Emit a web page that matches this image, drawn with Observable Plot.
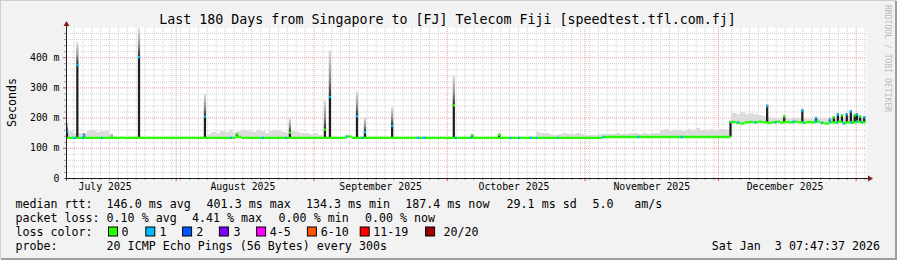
<!DOCTYPE html>
<html><head><meta charset="utf-8">
<script src="https://cdn.jsdelivr.net/npm/d3@7"></script>
<script src="https://cdn.jsdelivr.net/npm/@observablehq/plot@0.6"></script>
<style>
html,body{margin:0;padding:0;background:#f2f2f2;overflow:hidden}
#chart{position:relative;width:897px;height:260px}
#chart svg text{font-family:"DejaVu Sans Mono",monospace}
</style></head>
<body><div id="chart"></div>
<script>
// ---------- data ----------
const rangeStart = "2025-07-07T07:47:37Z";
const rangeEnd = "2026-01-03T07:47:37Z";
const titleText = "Last 180 Days from Singapore to [FJ] Telecom Fiji [speedtest.tfl.com.fj]";
const yAxisTitle = "Seconds";
const sideText = "RRDTOOL / TOBI OETIKER";
const yTickValues = [0, 100, 200, 300, 400];
const yTickLabels = ["0", "100 m", "200 m", "300 m", "400 m"];
const monthLabelDates = ["2025-07-16", "2025-08-16", "2025-09-16", "2025-10-16", "2025-11-16", "2025-12-16"];
const monthLabels = ["July 2025", "August 2025", "September 2025", "October 2025", "November 2025", "December 2025"];

// median rtt steps (ms), each lasting until the next start
const medianStepStart = ["2025-07-07T07:47Z","2025-08-14T12:00Z","2025-08-15T20:00Z","2025-09-08T10:00Z","2025-09-09T14:00Z",
  "2025-11-05T00:00Z","2025-12-03T20:00Z","2025-12-05T00:00Z","2025-12-06T00:00Z","2025-12-07T00:00Z","2025-12-08T00:00Z",
  "2025-12-09T00:00Z","2025-12-10T00:00Z","2025-12-11T00:00Z","2025-12-12T00:00Z","2025-12-13T00:00Z","2025-12-14T00:00Z",
  "2025-12-15T00:00Z","2025-12-16T00:00Z","2025-12-17T00:00Z","2025-12-18T00:00Z","2025-12-19T00:00Z","2025-12-20T00:00Z",
  "2025-12-21T00:00Z","2025-12-22T00:00Z","2025-12-23T00:00Z","2025-12-24T00:00Z","2025-12-25T00:00Z","2025-12-26T00:00Z",
  "2025-12-27T00:00Z","2025-12-28T00:00Z","2025-12-29T00:00Z","2025-12-30T00:00Z","2025-12-31T00:00Z","2026-01-01T00:00Z",
  "2026-01-02T00:00Z","2026-01-03T00:00Z"];
const medianStepMs = [134.3,138,134.3,139,134.3,
  137.5,187,185,182,186,187,
  186,188,186,184,186,188,
  185,187,186,188,186,185,
  187,186,188,184,182,186,
  185,188,183,186,185,188,
  186,187];

// short stretches of the median drawn with loss colour "1"
const blueStart = ["2025-07-09T00:00Z","2025-07-11T00:00Z","2025-07-15T04:00Z","2025-08-13T04:00Z","2025-08-20T08:00Z",
  "2025-08-25T14:00Z","2025-09-08T06:00Z","2025-09-11T20:00Z","2025-09-24T06:00Z","2025-09-25T14:00Z","2025-10-02T18:00Z",
  "2025-10-06T04:00Z","2025-10-15T04:00Z","2025-10-17T00:00Z","2025-10-19T16:00Z","2025-10-21T00:00Z","2025-10-25T18:00Z",
  "2025-11-05T00:00Z","2025-11-12T20:00Z","2025-11-22T14:00Z","2025-12-04T00:00Z","2025-12-05T08:00Z","2025-12-09T04:00Z",
  "2025-12-13T18:00Z","2025-12-17T18:00Z","2025-12-20T02:00Z","2025-12-22T18:00Z","2025-12-24T06:00Z","2025-12-26T02:00Z",
  "2025-12-27T16:00Z","2025-12-29T02:00Z","2025-12-30T20:00Z","2026-01-01T04:00Z","2026-01-02T06:00Z"];
const blueEnd = ["2025-07-09T12:00Z","2025-07-11T10:00Z","2025-07-15T14:00Z","2025-08-13T16:00Z","2025-08-20T20:00Z",
  "2025-08-26T00:00Z","2025-09-08T16:00Z","2025-09-12T06:00Z","2025-09-24T22:00Z","2025-09-26T08:00Z","2025-10-03T04:00Z",
  "2025-10-06T14:00Z","2025-10-15T14:00Z","2025-10-17T12:00Z","2025-10-20T04:00Z","2025-10-21T10:00Z","2025-10-26T04:00Z",
  "2025-11-05T10:00Z","2025-11-13T08:00Z","2025-11-23T04:00Z","2025-12-04T08:00Z","2025-12-05T18:00Z","2025-12-09T16:00Z",
  "2025-12-14T04:00Z","2025-12-18T06:00Z","2025-12-20T10:00Z","2025-12-23T06:00Z","2025-12-24T14:00Z","2025-12-26T10:00Z",
  "2025-12-28T00:00Z","2025-12-29T12:00Z","2025-12-31T06:00Z","2026-01-01T12:00Z","2026-01-02T14:00Z"];

// daily smoke (max rtt, ms), one value per day from 2025-07-07; null = no smoke
const smokeFirstDay = "2025-07-07T00:00Z";
const smokeJul = [160,155,150,150,148,156,158,153,157,154,150,null,null,null,null,null,null,null,null,null,null,null,null,null,null];
const smokeAug = [null,null,null,null,null,null,null,146,152,150,155,152,158,148,156,160,155,152,158,156,150,155,159,156,152,148,155,152,150,148,146];
const smokeSep = [148,144,null,null,null,null,null,null,null,null,null,null,null,null,null,null,null,null,null,null,null,null,null,null,null,null,null,null,null,null];
const smokeOct = [null,null,null,null,null,null,null,null,null,null,null,null,null,null,null,null,null,null,null,null,152,150,148,146,144,146,149,145,147,149,146];
const smokeNov = [144,142,144,146,145,147,146,148,145,147,149,148,146,149,147,150,149,158,162,156,160,158,155,161,158,164,160,158,162,159];
const smokeDec = [161,163,158,216,213,218,211,216,212,210,206,203,199,197,201,199,196,200,198,200,197,195,199,197,195,198,201,203,199,204,202];
const smokeJan = [204,199,197];

// spikes: time, rtt level under the spike, median, max, loss index
const spikeTime = ["2025-07-07T13:00Z","2025-07-09T21:00Z","2025-07-11T09:00Z","2025-07-17T16:00Z","2025-07-23T18:00Z",
  "2025-08-07T14:00Z","2025-08-14T19:00Z","2025-08-26T17:00Z","2025-09-03T14:00Z","2025-09-04T17:00Z","2025-09-10T19:00Z",
  "2025-09-12T14:00Z","2025-09-18T17:00Z","2025-10-02T14:00Z","2025-10-06T17:00Z","2025-10-12T19:00Z","2025-12-03T20:00Z",
  "2025-12-12T02:00Z","2025-12-15T22:00Z","2025-12-20T00:00Z","2025-12-23T02:00Z","2025-12-26T05:00Z","2025-12-27T02:00Z",
  "2025-12-28T00:00Z","2025-12-28T22:00Z","2025-12-30T00:00Z","2025-12-30T22:00Z","2025-12-31T19:00Z","2026-01-01T07:00Z",
  "2026-01-02T00:00Z","2026-01-02T22:00Z"];
const spikeBase = [134,134,134,134,134,134,134,134,134,134,134,134,134,134,134,134,137,186,186,186,186,186,186,186,186,186,186,186,186,186,186];
const spikeMedian = [155,375,142,140,402,205,147,152,162,270,206,153,174,242,143,145,187,239,205,225,200,195,202,212,209,212,222,209,212,205,203];
const spikeMax = [185,450,150,142,497,278,152,198,258,424,286,200,236,341,146,148,190,245,210,230,203,198,205,216,212,216,226,212,215,208,206];
const spikeLoss = [1,1,1,0,1,1,0,0,0,1,1,1,1,0,0,0,0,1,0,1,1,1,0,1,0,1,1,0,1,0,1];

// legend
const lossLabels = ["0","1","2","3","4-5","6-10","11-19","20/20"];
const lossColors = ["#26ff00","#00b8ff","#0059ff","#7e00ff","#ff00ff","#ff5500","#ff0000","#a10000"];
const medianRttLabel = "median rtt:";
const medianRttItems = ["146.0 ms avg","401.3 ms max","134.3 ms min","187.4 ms now","29.1 ms sd","5.0","am/s"];
const packetLossLabel = "packet loss:";
const packetLossItems = ["0.10 % avg","4.41 % max","0.00 % min","0.00 % now"];
const lossColorLabel = "loss color:";
const probeLabel = "probe:";
const probeText = "20 ICMP Echo Pings (56 Bytes) every 300s";
const stampText = "Sat Jan  3 07:47:37 2026";

// ---------- build tables ----------
const t0 = new Date(rangeStart), t1 = new Date(rangeEnd);
const steps = medianStepStart.map((s, i) => ({
  a: new Date(s), b: i + 1 < medianStepStart.length ? new Date(medianStepStart[i + 1]) : t1, v: medianStepMs[i]
}));
function medianAt(t) {
  let v = steps[0].v;
  for (const s of steps) if (+s.a <= +t) v = s.v;
  return v;
}
const blues = blueStart.map((s, i) => {
  const a = new Date(s), b = new Date(blueEnd[i]);
  return {a, b, v: medianAt(new Date((+a + +b) / 2))};
});
const smokeAll = [].concat(smokeJul, smokeAug, smokeSep, smokeOct, smokeNov, smokeDec, smokeJan);
const day0 = new Date(smokeFirstDay);
const smoke = smokeAll.map((v, i) => ({
  a: d3.utcDay.offset(day0, i), b: d3.utcDay.offset(day0, i + 1), top: v
})).filter(d => d.top != null).map(d => ({...d, base: medianAt(d.a)}));
const halfW = 6 * 3600e3;
const spikes = spikeTime.map((s, i) => {
  const t = new Date(s);
  return {a: new Date(+t - halfW), b: new Date(+t + halfW), base: spikeBase[i], med: spikeMedian[i], max: spikeMax[i], color: lossColors[spikeLoss[i]]};
});

const monthStarts = d3.utcMonth.range(d3.utcMonth.ceil(t0), t1);
const minorDays = d3.utcDay.range(d3.utcDay.ceil(t0), t1)
  .filter(d => Math.round(+d / 864e5) % 2 === 0 && d.getUTCDate() !== 1);
const yMinor = d3.range(20, 500, 20).filter(v => v % 100 !== 0);
const yMajor = [100, 200, 300, 400];
const monthTickDates = monthLabelDates.map(d => new Date(d + "T00:00Z"));
const monthMap = new Map(monthTickDates.map((d, i) => [+d, monthLabels[i]]));
const yMap = new Map(yTickValues.map((v, i) => [v, yTickLabels[i]]));

const gridMinor = "#d0d0d0", gridMajor = "#ec9c9c";

const chart = Plot.plot({
  width: 897, height: 260,
  marginLeft: 66, marginRight: 31, marginTop: 27, marginBottom: 82,
  x: {type: "utc", domain: [t0, t1]},
  y: {domain: [0, 500]},
  color: {type: "identity"},
  style: {background: "transparent", fontFamily: "DejaVu Sans Mono", fontSize: "9.8px", color: "#000", overflow: "visible"},
  marks: [
    Plot.frame({fill: "#ffffff", stroke: "none"}),
    Plot.ruleX(minorDays, {stroke: gridMinor, strokeDasharray: "1,1"}),
    Plot.ruleY(yMinor, {stroke: gridMinor, strokeDasharray: "1,1"}),
    Plot.ruleX(monthStarts, {stroke: gridMajor, strokeDasharray: "1,1"}),
    Plot.ruleY(yMajor, {stroke: gridMajor, strokeDasharray: "1,1"}),
    Plot.rect(smoke, {x1: "a", x2: "b", y1: "base", y2: "top", fill: "#dcdcdc", clip: true, shapeRendering: "crispEdges"}),
    Plot.rect(spikes, {x1: "a", x2: "b", y1: "med", y2: "max", fill: "url(#smokeGrad)", clip: true}),
    Plot.rect(spikes, {x1: "a", x2: "b", y1: "base", y2: "med", fill: "#1e1e1e", clip: true}),
    Plot.ruleY(steps, {x1: "a", x2: "b", y: "v", stroke: lossColors[0], strokeWidth: 2.3, clip: true}),
    Plot.ruleY(blues, {x1: "a", x2: "b", y: "v", stroke: lossColors[1], strokeWidth: 2.3, clip: true}),
    Plot.ruleY(spikes, {x1: "a", x2: "b", y: "med", stroke: "color", strokeWidth: 2.3, clip: true}),
    Plot.axisX(minorDays, {tickSize: 2, tickFormat: () => "", stroke: "#9a9a9a", label: null}),
    Plot.axisX(monthStarts, {tickSize: 3, tickFormat: () => "", stroke: "#d44", label: null}),
    Plot.axisY(yMinor, {tickSize: 2, tickFormat: () => "", stroke: "#9a9a9a", label: null}),
    Plot.axisY(yMajor, {tickSize: 3, tickFormat: () => "", stroke: "#d44", label: null}),
    Plot.axisX(monthTickDates, {tickSize: 0, tickPadding: 5, tickFormat: d => monthMap.get(+d), label: null, fill: "#000"}),
    Plot.axisY(yTickValues, {tickSize: 0, tickPadding: 7, tickFormat: d => yMap.get(d), label: null, fill: "#000"})
  ]
});
document.getElementById("chart").appendChild(chart);

// ---------- chrome ----------
const svg = d3.select(chart);
const grad = svg.insert("defs", ":first-child").append("linearGradient")
  .attr("id", "smokeGrad").attr("x1", 0).attr("y1", 1).attr("x2", 0).attr("y2", 0);
grad.append("stop").attr("offset", "0%").attr("stop-color", "#2a2a2a");
grad.append("stop").attr("offset", "40%").attr("stop-color", "#8f8f8f");
grad.append("stop").attr("offset", "100%").attr("stop-color", "#e0e0e0");

const xs = chart.scale("x"), ys = chart.scale("y");
const X0 = xs.range[0] + 0.5, X1 = xs.range[1], Y0 = ys.range[0] + 0.5, Y1 = ys.range[1];
const axisCol = "#1f1f1f", arrowCol = "#801f1f";
svg.append("line").attr("x1", X0 - 2).attr("x2", X1 + 3).attr("y1", Y0).attr("y2", Y0).attr("stroke", axisCol);
svg.append("line").attr("x1", X0).attr("x2", X0).attr("y1", Y0 + 2).attr("y2", Y1 - 2).attr("stroke", axisCol);
svg.append("path").attr("d", `M${X1 + 2},${Y0 - 3}L${X1 + 7},${Y0}L${X1 + 2},${Y0 + 3}Z`).attr("fill", arrowCol);
svg.append("path").attr("d", `M${X0 - 3},${Y1 - 1}L${X0},${Y1 - 6}L${X0 + 3},${Y1 - 1}Z`).attr("fill", arrowCol);

// border (3D frame)
svg.append("path").attr("d", "M0,259V0H896").attr("fill", "none").attr("stroke", "#cfcfcf").attr("stroke-width", 2);
svg.append("path").attr("d", "M1,259H896V1").attr("fill", "none").attr("stroke", "#9e9e9e").attr("stroke-width", 2);

function txt(x, y, s, size, anchor, fill) {
  return svg.append("text").attr("x", x).attr("y", y).attr("font-size", size)
    .attr("text-anchor", anchor || "start").attr("fill", fill || "#000")
    .attr("xml:space", "preserve").style("white-space", "pre").style("font-family", "'DejaVu Sans Mono', monospace").text(s);
}
txt(447.5, 24, titleText, "13.3px", "middle");
txt(0, 0, yAxisTitle, "11.65px", "middle").attr("transform", "translate(15.5,102.5) rotate(-90)");
txt(0, 0, sideText, "8.1px", "start", "#bcbcbc").attr("transform", "translate(885,5) rotate(90)");

const fs = "11.65px";
txt(15.5, 208, medianRttLabel, fs);
[106.6, 206.6, 306, 405.3, 506.6, 592.6, 634.3].forEach((x, i) => txt(x, 208, medianRttItems[i], fs));
txt(15.5, 222, packetLossLabel, fs);
[106.6, 192, 278.6, 365].forEach((x, i) => txt(x, 222, packetLossItems[i], fs));
txt(15.5, 236, lossColorLabel, fs);
const boxX = [108.5, 145.8, 182.6, 219.4, 256.6, 307.4, 360.2, 425.6];
const labX = [121.5, 159.5, 196.2, 233.5, 269.8, 320.8, 373.2, 443.5];
lossLabels.forEach((l, i) => {
  svg.append("rect").attr("x", boxX[i]).attr("y", 227).attr("width", 9).attr("height", 9)
    .attr("fill", lossColors[i]).attr("stroke", "#000").attr("stroke-width", 1);
  txt(labX[i], 236, l, fs);
});
txt(15.5, 249.5, probeLabel, fs);
txt(106.6, 249.5, probeText, fs);
txt(880, 249.5, stampText, fs, "end");
</script>
</body></html>
